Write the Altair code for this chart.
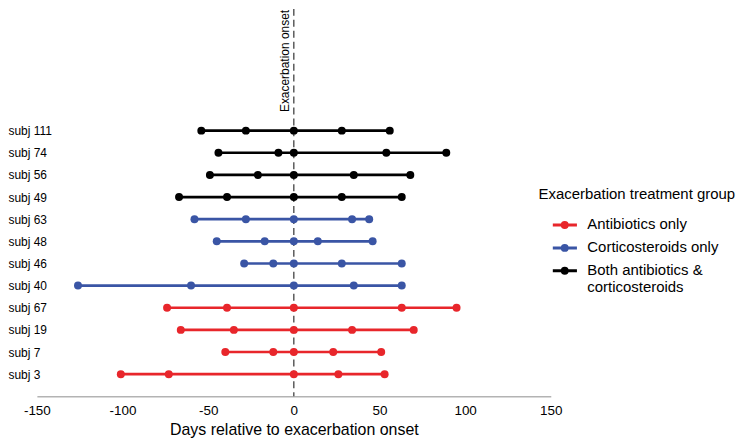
import altair as alt
import pandas as pd

# ---- data ----
subjects = ["subj 3", "subj 7", "subj 19", "subj 67", "subj 40", "subj 46",
            "subj 48", "subj 63", "subj 49", "subj 56", "subj 74", "subj 111"]
groups = ["Antibiotics only"] * 4 + ["Corticosteroids only"] * 4 + \
         ["Both antibiotics & corticosteroids"] * 4
days = [
    [-101, -73, 0, 26, 53],      # subj 3
    [-40, -12, 0, 23, 51],       # subj 7
    [-66, -35, 0, 34, 70],       # subj 19
    [-74, -39, 0, 63, 95],       # subj 67
    [-126, -60, 0, 35, 63],      # subj 40
    [-29, -12, 0, 28, 63],       # subj 46
    [-45, -17, 0, 14, 46],       # subj 48
    [-58, -28, 0, 34, 44],       # subj 63
    [-67, -39, 0, 28, 63],       # subj 49
    [-49, -21, 0, 35, 68],       # subj 56
    [-44, -9, 0, 54, 89],        # subj 74
    [-54, -28, 0, 28, 56],       # subj 111
]
group_order = ["Antibiotics only", "Corticosteroids only",
               "Both antibiotics & corticosteroids"]
group_colors = ["#e8262b", "#3a55a5", "#000000"]
x_ticks = [-150, -100, -50, 0, 50, 100, 150]
onset_day = [0]
onset_label = "Exacerbation onset"

rows = []
for i, (s, g, ds) in enumerate(zip(subjects, groups, days)):
    for d in ds:
        rows.append({"subject": s, "row": i + 1, "group": g, "day": d})
df = pd.DataFrame(rows)
onset_df = pd.DataFrame({"day": onset_day, "label": [onset_label]})

label_expr = "[" + ",".join("'" + s + "'" for s in subjects) + "][datum.value - 1]"

x_enc = alt.X("day:Q",
              scale=alt.Scale(domain=[-150, 150], nice=False, zero=False),
              axis=alt.Axis(values=x_ticks, title="Days relative to exacerbation onset",
                            labelExpr="toString(datum.value)",
                            grid=False, ticks=False, domainColor="#b3b3b3",
                            domainWidth=1.5, labelFontSize=13.5, labelPadding=7,
                            labelColor="black", titleColor="black",
                            titleFontSize=16, titleFontWeight="normal",
                            titlePadding=5, labelFlush=False))
y_enc = alt.Y("row:Q",
              scale=alt.Scale(domain=[0, 17.5], nice=False, zero=False),
              axis=alt.Axis(values=list(range(1, len(subjects) + 1)),
                            labelExpr=label_expr, title=None, grid=False,
                            ticks=False, domain=False, labelAlign="left",
                            labelPadding=29, labelFontSize=12,
                            labelColor="black"))

sym_path = ("M0.51,0.94H3.36M2.21,0.94A0.29,0.29,0,1,1,1.63,0.94"
            "A0.29,0.29,0,1,1,2.21,0.94Z")
legend = alt.Legend(orient="none", legendX=503.7, legendY=179,
                    title="Exacerbation treatment group", titleFontSize=15,
                    titleFontWeight="normal", titleColor="black",
                    titleLimit=400,
                    titlePadding=5, labelFontSize=15, labelColor="black",
                    labelOffset=29, labelLimit=300, symbolType=sym_path,
                    symbolSize=289, symbolStrokeWidth=3, rowPadding=-4,
                    gridAlign="none",
                    padding=0, labelBaseline="top",
                    labelExpr="datum.label == 'Both antibiotics & corticosteroids' ? ['Both antibiotics &', 'corticosteroids'] : datum.label")
cscale = alt.Scale(domain=group_order, range=group_colors)

lines = alt.Chart(df).mark_line(strokeWidth=2.7).encode(
    x=x_enc, y=y_enc,
    stroke=alt.Stroke("group:N", scale=cscale, legend=legend),
    detail="subject:N")
points = alt.Chart(df).mark_circle(size=64, opacity=1).encode(
    x=x_enc, y=y_enc,
    fill=alt.Fill("group:N", scale=cscale, legend=legend))
rule = alt.Chart(onset_df).mark_rule(strokeDash=[7, 4], color="#333333",
                                     strokeWidth=1.2).encode(x="day:Q")
onset_text = alt.Chart(onset_df).mark_text(angle=270, align="right",
                                          baseline="alphabetic", dy=-5,
                                          fontSize=12, color="black").encode(
    x="day:Q", y=alt.value(1), text="label:N")

chart = alt.layer(rule, onset_text, lines, points).properties(
    width=516, height=389,
    autosize=alt.AutoSizeParams(type="none"),
    padding={"left": 29, "top": 0, "right": 192, "bottom": 44},
).configure(font="Liberation Sans").configure_view(stroke=None)

chart.save("out.html", embed_options={"renderer": "svg", "actions": False})
